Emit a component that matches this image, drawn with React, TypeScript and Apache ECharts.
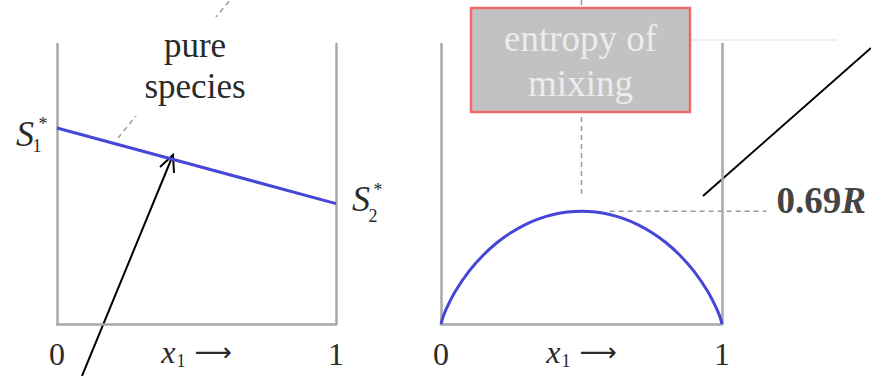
import React, { useEffect, useRef } from "react";
import * as echarts from "echarts";

// ---- data ----
const X_TICKS = [0, 1];
const PURE_X = [0, 1];
const PURE_S = [0.7, 0.43]; // S1*, S2*
const MIX_X = [0, 0.005, 0.01, 0.02, 0.05, 0.1, 0.15, 0.2, 0.25, 0.3, 0.35, 0.4, 0.45, 0.5,
  0.55, 0.6, 0.65, 0.7, 0.75, 0.8, 0.85, 0.9, 0.95, 0.98, 0.99, 0.995, 1];
const MIX_S = [0, 0.0315, 0.056, 0.098, 0.1985, 0.3251, 0.4227, 0.5004, 0.5623, 0.6109, 0.6474, 0.673, 0.6881, 0.6931,
  0.6881, 0.673, 0.6474, 0.6109, 0.5623, 0.5004, 0.4227, 0.3251, 0.1985, 0.098, 0.056, 0.0315, 0];
const PEAK_TEXT = "0.69";
const PURE_LABEL = "pure\nspecies";
const MIX_LABEL = "entropy of\nmixing";

const SERIF = '"Liberation Serif", "Times New Roman", serif';
const AXIS_COLOR = "#a8a8a8";
const BLUE = "#4646d8";
const TEXT = "#2a2a2a";

export default function App() {
  const ref = useRef<HTMLDivElement>(null);
  useEffect(() => {
    document.body.style.margin = "0";
    const chart = echarts.init(ref.current!, null, { renderer: "svg" });
    const axisLine = { show: true, onZero: false, lineStyle: { color: AXIS_COLOR, width: 2.5 } };
    const xAxis = (gridIndex: number) => ({
      type: "value",
      gridIndex,
      min: 0,
      max: 1,
      interval: 1,
      axisLine,
      axisTick: { show: false },
      splitLine: { show: false },
      axisLabel: {
        show: true,
        margin: 14,
        fontFamily: SERIF,
        fontSize: 32,
        color: TEXT,
        showMinLabel: true,
        showMaxLabel: true,
        formatter: (v: number) => (X_TICKS.includes(v) ? String(v) : ""),
      },
      name: "{x|x}{s|1}{a|⟶}",
      nameLocation: "middle",
      nameGap: 13,
      nameMoveOverlap: false,
      nameTextStyle: {
        rich: {
          x: { fontFamily: SERIF, fontStyle: "italic", fontSize: 32, lineHeight: 30, color: TEXT },
          s: { fontFamily: SERIF, fontSize: 18, lineHeight: 17, padding: [18, 0, 0, 1], color: TEXT },
          a: { fontFamily: "DejaVu Sans", fontSize: 26, lineHeight: 30, padding: [0, 0, 0, 9], color: TEXT },
        },
      },
    });
    const yAxis = (gridIndex: number, position: string, max: number) => ({
      type: "value",
      gridIndex,
      position,
      min: 0,
      max,
      axisLine,
      axisTick: { show: false },
      axisLabel: { show: false },
      splitLine: { show: false },
    });

    chart.setOption({
      animation: false,
      grid: [
        { left: 57, top: 44, width: 279, height: 280, outerBoundsMode: "none", containLabel: false },
        { left: 441, top: 44, width: 281, height: 280, outerBoundsMode: "none", containLabel: false },
      ],
      xAxis: [xAxis(0), xAxis(1)],
      yAxis: [yAxis(0, "left", 1), yAxis(0, "right", 1), yAxis(1, "left", 1.72), yAxis(1, "right", 1.72)],
      series: [
        {
          type: "line",
          xAxisIndex: 0,
          yAxisIndex: 0,
          symbol: "none",
          lineStyle: { color: BLUE, width: 3 },
          data: PURE_X.map((x, i) => [x, PURE_S[i]]),
        },
        {
          type: "line",
          xAxisIndex: 1,
          yAxisIndex: 2,
          symbol: "none",
          smooth: 0.2,
          lineStyle: { color: BLUE, width: 3 },
          data: MIX_X.map((x, i) => [x, MIX_S[i]]),
        },
      ],
    });

    const p0 = chart.convertToPixel({ seriesIndex: 0 }, [PURE_X[0], PURE_S[0]]) as number[];
    const p1 = chart.convertToPixel({ seriesIndex: 0 }, [PURE_X[1], PURE_S[1]]) as number[];
    const peakIdx = MIX_S.indexOf(Math.max(...MIX_S));
    const pk = chart.convertToPixel({ seriesIndex: 1 }, [MIX_X[peakIdx], MIX_S[peakIdx]]) as number[];
    const pkR = chart.convertToPixel({ seriesIndex: 1 }, [0.6, MIX_S[peakIdx]]) as number[];

    const dash = { stroke: "#9a9a9a", lineWidth: 1.5, lineDash: [5, 4] };
    const t = (text: string, x: number, y: number, extra: any = {}) => ({
      type: "text",
      x,
      y,
      style: { text, fill: TEXT, fontFamily: SERIF, fontSize: 36, align: "center", verticalAlign: "middle", ...extra },
    });

    chart.setOption({
      graphic: [
        // pure species pointer
        { type: "line", shape: { x1: 118, y1: 138, x2: 230, y2: 0 }, style: dash },
        { type: "rect", shape: { x: 135, y: 17, width: 118, height: 99 }, style: { fill: "#fff" } },
        t(PURE_LABEL, 195, 66, { fontSize: 35, lineHeight: 41 }),
        // S labels
        t("S", p0[0] - 32, p0[1] + 6, { fontStyle: "italic" }),
        t("1", p0[0] - 20, p0[1] + 18, { fontSize: 18 }),
        t("*", p0[0] - 14, p0[1] - 4, { fontSize: 18 }),
        t("S", p1[0] + 25, p1[1] - 5, { fontStyle: "italic" }),
        t("2", p1[0] + 37, p1[1] + 12, { fontSize: 18 }),
        t("*", p1[0] + 42, p1[1] - 14, { fontSize: 18 }),
        // black arrow (left)
        { type: "line", shape: { x1: 82, y1: 376, x2: 173, y2: 155 }, style: { stroke: "#000", lineWidth: 2 } },
        { type: "polyline", shape: { points: [[160, 167], [173, 155], [174, 173]] }, style: { stroke: "#000", lineWidth: 2, fill: null } },
        // vertical dashed line through box
        { type: "line", shape: { x1: pk[0], y1: 0, x2: pk[0], y2: pk[1] - 17 }, style: dash },
        { type: "line", shape: { x1: 690, y1: 40, x2: 837, y2: 40 }, style: { stroke: "#f0f0f0", lineWidth: 2 } },
        { type: "rect", shape: { x: 471, y: 8, width: 219, height: 104 }, style: { fill: "#c2c2c2", stroke: "#f06a6a", lineWidth: 2.5 } },
        t(MIX_LABEL, 580.5, 61, { fontSize: 37, lineHeight: 45, fill: "#ececec" }),
        // 0.69R
        { type: "line", shape: { x1: pkR[0], y1: pk[1], x2: pkR[0] + 157, y2: pk[1] }, style: dash },
        {
          type: "text",
          x: pkR[0] + 167,
          y: pk[1] - 11,
          style: {
            text: `{n|${PEAK_TEXT}}{r|R}`,
            align: "left",
            verticalAlign: "middle",
            rich: {
              n: { fontFamily: SERIF, fontSize: 37, fontWeight: "bold", fill: "#444" },
              r: { fontFamily: SERIF, fontSize: 37, fontWeight: "bold", fontStyle: "italic", fill: "#444" },
            },
          },
        },
        // black line (right)
        { type: "line", shape: { x1: 703, y1: 196, x2: 871, y2: 48 }, style: { stroke: "#000", lineWidth: 2 } },
      ],
    });

    return () => chart.dispose();
  }, []);
  return <div ref={ref} style={{ width: 871, height: 376 }} />;
}
